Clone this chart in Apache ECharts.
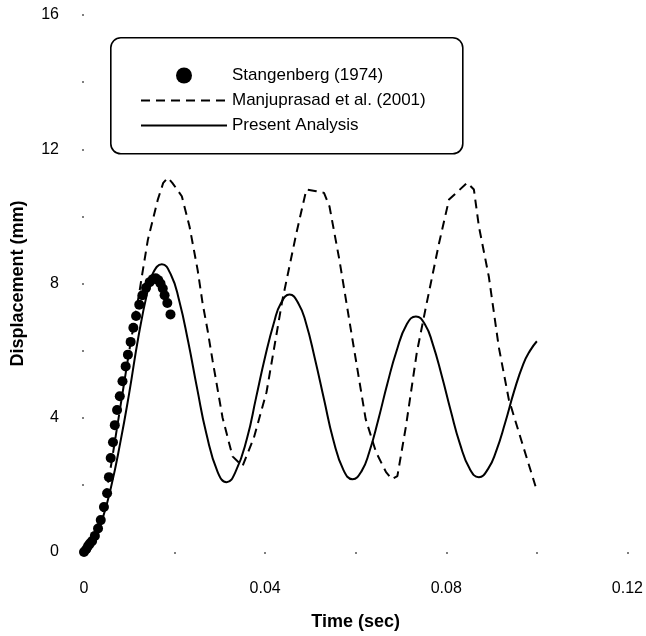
<!DOCTYPE html>
<html>
<head>
<meta charset="utf-8">
<script src="https://cdn.jsdelivr.net/npm/echarts@6/dist/echarts.min.js"></script>
<style>
html,body{margin:0;padding:0;background:#fff;}
#chart{width:646px;height:636px;}
</style>
</head>
<body>
<div id="chart"></div>
<script>
// Series names
const seriesNames = ['Stangenberg (1974)', 'Manjuprasad et al. (2001)', 'Present Analysis'];

// Stangenberg (1974) experimental points: [time (s), displacement (mm)]
const stangenberg = [
  [0,0],[0.0005,0.08],[0.0009,0.18],[0.0013,0.25],[0.0018,0.33],[0.0024,0.48],[0.0031,0.7],
  [0.0037,0.95],[0.0044,1.34],[0.0051,1.75],[0.0055,2.23],[0.0059,2.8],[0.0064,3.27],
  [0.0068,3.78],[0.0073,4.23],[0.0079,4.64],[0.0085,5.09],[0.0092,5.53],[0.0097,5.88],
  [0.0103,6.26],[0.0109,6.68],[0.0115,7.03],[0.0122,7.37],[0.0129,7.65],[0.0137,7.87],
  [0.0145,8.04],[0.0152,8.13],[0.0158,8.16],[0.0164,8.1],[0.0169,8.0],[0.0174,7.85],
  [0.0178,7.65],[0.0184,7.42],[0.0191,7.08]
];

// Manjuprasad et al. (2001)
const manjuprasad = [
  [0,0],[0.002,0.3],[0.004,1.1],[0.006,2.6],[0.008,4.3],[0.010,6.0],[0.0123,7.8],[0.013,8.4],
  [0.0141,9.3],[0.0152,9.9],[0.0163,10.5],[0.0175,11.0],[0.0185,11.15],[0.0195,11.0],
  [0.0216,10.6],[0.0233,9.7],[0.0251,8.4],[0.0262,7.4],[0.0273,6.6],[0.0284,5.7],
  [0.0306,4.0],[0.0328,2.85],[0.035,2.56],[0.0375,3.4],[0.0403,4.76],[0.0438,7.5],
  [0.0469,9.5],[0.0491,10.8],[0.0513,10.75],[0.053,10.7],[0.0542,10.3],[0.0564,8.7],
  [0.0592,6.4],[0.0622,3.96],[0.0645,2.97],[0.0667,2.38],[0.068,2.17],[0.0692,2.26],
  [0.0711,3.75],[0.0735,5.95],[0.0755,7.3],[0.0784,9.2],[0.0806,10.5],[0.0846,11.0],
  [0.0861,10.8],[0.0872,9.7],[0.0894,8.2],[0.0916,6.1],[0.0938,4.55],[0.0967,3.27],
  [0.0997,1.96]
];

// Present Analysis
const present = [
  [0,0],[0.002,0.25],[0.004,0.95],[0.006,1.95],[0.008,3.25],[0.010,4.75],[0.012,6.4],
  [0.014,7.75],[0.0152,8.3],[0.0172,8.57],[0.0192,8.26],[0.021,7.5],[0.023,6.27],
  [0.025,4.86],[0.027,3.54],[0.0295,2.39],[0.0315,2.08],[0.0335,2.4],[0.036,3.39],
  [0.038,4.6],[0.040,5.82],[0.042,6.86],[0.0434,7.39],[0.0454,7.67],[0.0474,7.39],
  [0.049,6.83],[0.051,5.75],[0.053,4.55],[0.055,3.37],[0.0573,2.44],[0.0593,2.17],
  [0.0613,2.41],[0.063,2.98],[0.065,3.95],[0.067,5.02],[0.069,5.98],[0.0713,6.79],
  [0.0733,7.02],[0.0753,6.78],[0.077,6.2],[0.079,5.25],[0.081,4.2],[0.083,3.23],
  [0.0852,2.47],[0.0872,2.23],[0.0892,2.47],[0.091,3.0],[0.093,3.85],[0.095,4.8],
  [0.097,5.6],[0.0985,6.0],[0.1,6.28]
];

// Axis settings
const xTicks = [0, 0.04, 0.08, 0.12];
const yTicks = [0, 4, 8, 12, 16];
const xAxisTitle = 'Time (sec)';
const yAxisTitle = 'Displacement (mm)';

const FONT = '"Liberation Sans", Arial, Helvetica, sans-serif';
const chart = echarts.init(document.getElementById('chart'), null, {renderer: 'canvas'});

const tickStyle = {color: '#555', width: 1.5};
const hiddenSymbol = {color: 'rgba(0,0,0,0)', borderColor: 'rgba(0,0,0,0)', borderWidth: 0, opacity: 0};

chart.setOption({
  animation: false,
  backgroundColor: '#fff',
  textStyle: {fontFamily: FONT},
  grid: {left: 84, right: 15, top: 15, bottom: 83, containLabel: false},
  graphic: [{
    type: 'rect',
    left: 110, top: 37,
    shape: {width: 352, height: 116, r: 10},
    style: {fill: '#fff', stroke: '#000', lineWidth: 1.6},
    z: 90
  }],
  legend: {
    orient: 'vertical',
    left: 135, top: 62,
    itemWidth: 86, itemHeight: 16, itemGap: 8,
    textStyle: {fontFamily: FONT, fontSize: 17, color: '#000', lineHeight: 16},
    z: 100,
    data: [
      {name: seriesNames[0], icon: 'circle', itemStyle: {color: '#000', opacity: 1}},
      {name: seriesNames[1], itemStyle: hiddenSymbol},
      {name: seriesNames[2], itemStyle: hiddenSymbol}
    ]
  },
  xAxis: {
    type: 'value',
    min: xTicks[0], max: xTicks[xTicks.length - 1], interval: xTicks[1] - xTicks[0],
    name: xAxisTitle, nameLocation: 'middle', nameGap: 61,
    nameTextStyle: {fontFamily: FONT, fontSize: 18, fontWeight: 'bold', color: '#000'},
    axisLine: {show: false},
    axisTick: {show: true, length: 2, lineStyle: tickStyle},
    minorTick: {show: true, splitNumber: 2, length: 2, lineStyle: tickStyle},
    splitLine: {show: false},
    axisLabel: {margin: 29, fontSize: 16, color: '#000', fontFamily: FONT,
      formatter: v => String(+v.toFixed(2))}
  },
  yAxis: {
    type: 'value',
    min: yTicks[0], max: yTicks[yTicks.length - 1], interval: yTicks[1] - yTicks[0],
    name: yAxisTitle, nameLocation: 'middle', nameGap: 57,
    nameTextStyle: {fontFamily: FONT, fontSize: 18, fontWeight: 'bold', color: '#000'},
    axisLine: {show: false},
    axisTick: {show: true, length: 2, lineStyle: tickStyle},
    minorTick: {show: true, splitNumber: 2, length: 2, lineStyle: tickStyle},
    splitLine: {show: false},
    axisLabel: {margin: 25, fontSize: 16, color: '#000', fontFamily: FONT}
  },
  series: [
    {
      name: seriesNames[0], type: 'scatter', data: stangenberg,
      symbol: 'circle', symbolSize: 10,
      itemStyle: {color: '#000', opacity: 1}, z: 5
    },
    {
      name: seriesNames[1], type: 'line', data: manjuprasad,
      symbol: 'none', showSymbol: false, smooth: false,
      lineStyle: {color: '#000', width: 2, type: [9, 6]},
      itemStyle: {color: '#000'}, z: 3
    },
    {
      name: seriesNames[2], type: 'line', data: present,
      symbol: 'none', showSymbol: false, smooth: 0.5,
      lineStyle: {color: '#000', width: 2, type: 'solid'},
      itemStyle: {color: '#000'}, z: 4
    }
  ]
});
</script>
</body>
</html>
